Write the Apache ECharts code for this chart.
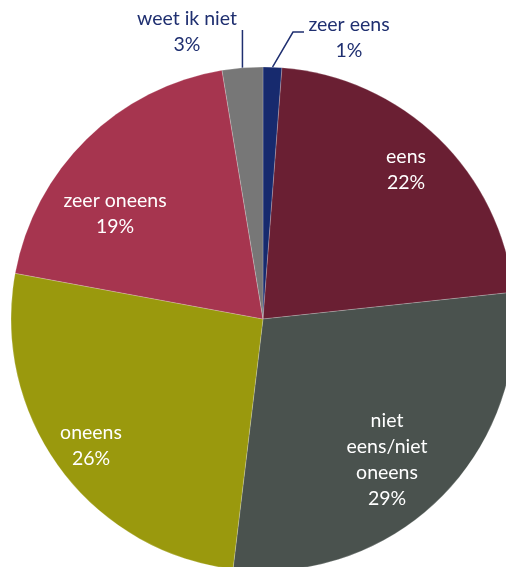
<!DOCTYPE html>
<html>
<head>
<meta charset="utf-8">
<script src="https://cdn.jsdelivr.net/npm/echarts@6/dist/echarts.min.js"></script>
<style>
html,body{margin:0;padding:0;background:#fff;}
#chart{width:506px;height:567px;}
</style>
</head>
<body>
<div id="chart"></div>
<script>
const categories = ['zeer eens', 'eens', 'niet eens/niet oneens', 'oneens', 'zeer oneens', 'weet ik niet'];
const values = [1.2, 22.1, 28.6, 26.0, 19.5, 2.6];
const percentLabels = ['1%', '22%', '29%', '26%', '19%', '3%'];

const colors = ['#172a6e', '#6a1f33', '#4a524e', '#9a990d', '#a6354f', '#777777'];
const outside = [true, false, false, false, false, true];
const labelAnchors = [[349, 38], [406, 170], [387, 460], [91, 446], [115, 214], [187, 32]];

const chart = echarts.init(document.getElementById('chart'), null, {renderer: 'canvas'});

function wrapName(n) {
  return n.length > 14 ? n.split(' ').join('\n') : n;
}

const data = categories.map((c, i) => ({
  name: c,
  value: values[i],
  itemStyle: {color: colors[i]},
  label: {
    position: outside[i] ? 'outside' : 'inside',
    color: outside[i] ? '#1f2f70' : '#ffffff'
  },
  labelLine: {show: outside[i]}
}));

chart.setOption({
  animation: false,
  series: [{
    type: 'pie',
    center: [263, 319],
    radius: 252,
    startAngle: 90,
    clockwise: true,
    avoidLabelOverlap: false,
    itemStyle: {borderColor: 'rgba(255,255,255,0.5)', borderWidth: 0.4},
    label: {
      show: true,
      fontFamily: 'Lato',
      fontSize: 19.5,
      lineHeight: 26,
      align: 'center',
      formatter: p => wrapName(p.name) + '\n' + percentLabels[p.dataIndex]
    },
    labelLine: {
      lineStyle: {color: '#1f2f70', width: 1.5}
    },
    labelLayout: function (p) {
      const i = p.dataIndex;
      const a = labelAnchors[i];
      const res = {x: a[0], y: a[1], align: 'center', verticalAlign: 'middle'};
      if (outside[i] && p.labelLinePoints) {
        const s = p.labelLinePoints[0];
        if (i === 0) {
          res.labelLinePoints = [s, [293, 32], [304, 32]];
        } else {
          res.labelLinePoints = [s, [s[0], 30], [s[0], 30]];
        }
      }
      return res;
    },
    data: data
  }]
});
</script>
</body>
</html>
